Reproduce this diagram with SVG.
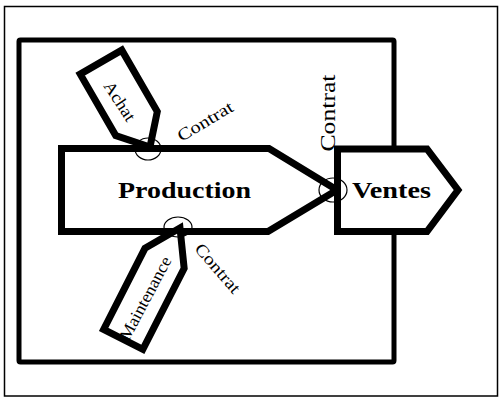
<svg xmlns="http://www.w3.org/2000/svg" width="502" height="401" viewBox="0 0 502 401">
<style>
.shape{fill:#fff;stroke:#000;stroke-width:7;stroke-linejoin:miter}
.lbl{font-family:"Liberation Serif","Times New Roman",serif;fill:#000}
.big{font-size:23px;font-weight:bold}
.sm{font-size:17px}
.ring{fill:none;stroke:#000;stroke-width:1.2}
</style>
<rect width="502" height="401" fill="#fff"/>
<g id="frame"><rect x="4.5" y="6.5" width="493" height="389.5" fill="none" stroke="#000" stroke-width="1.5"/></g>
<g id="container"><rect x="19" y="40" width="375" height="322" rx="1.5" fill="none" stroke="#000" stroke-width="5"/></g>
<g id="production">
<polygon class="shape" points="61.5,148.5 269,148.5 337,190 268,231.5 61.5,231.5"/>
<text class="lbl big" x="184.5" y="198" text-anchor="middle" textLength="133" lengthAdjust="spacingAndGlyphs">Production</text>
</g>
<g id="ventes">
<polygon class="shape" points="337.5,149 427,149 458,190 427,231.5 337.5,231.5"/>
<text class="lbl big" x="391.5" y="198" text-anchor="middle" textLength="79" lengthAdjust="spacingAndGlyphs">Ventes</text>
</g>
<g id="achat">
<polygon class="shape" transform="translate(150,147) rotate(-30)" points="-24,-98 24,-98 24,-27 0,0 -24,-27"/>
<text class="lbl sm" transform="translate(120,101) rotate(57)" x="0" y="6" text-anchor="middle" textLength="44" lengthAdjust="spacingAndGlyphs">Achat</text>
</g>
<g id="maintenance">
<polygon class="shape" transform="translate(180,228) rotate(27)" points="0,0 22,34 22,125 -22,125 -22,34"/>
<text class="lbl sm" transform="translate(145,298) rotate(-62)" x="0" y="6" text-anchor="middle" textLength="92" lengthAdjust="spacingAndGlyphs">Maintenance</text>
</g>
<g id="connectors">
<ellipse class="ring" cx="148" cy="149" rx="13" ry="11"/>
<ellipse class="ring" cx="178" cy="227" rx="14" ry="10"/>
<ellipse class="ring" cx="333" cy="190" rx="14" ry="12"/>
<text class="lbl sm" transform="translate(205,121) rotate(-31)" x="0" y="6" text-anchor="middle" textLength="62" lengthAdjust="spacingAndGlyphs">Contrat</text>
<text class="lbl sm" transform="translate(218,268) rotate(49)" x="0" y="6" text-anchor="middle" textLength="60" lengthAdjust="spacingAndGlyphs">Contrat</text>
<text class="lbl" style="font-size:21px" transform="translate(328,113) rotate(-90)" x="0" y="7" text-anchor="middle" textLength="77" lengthAdjust="spacingAndGlyphs">Contrat</text>
</g>
</svg>
